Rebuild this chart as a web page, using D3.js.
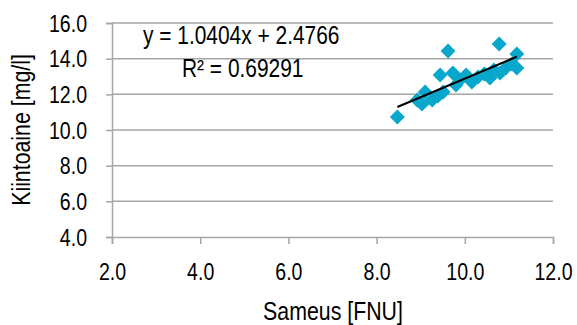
<!DOCTYPE html>
<html><head><meta charset="utf-8">
<script src="https://cdn.jsdelivr.net/npm/d3@7"></script>
<style>
html,body{margin:0;padding:0;background:#fff;}
svg text{font-family:"Liberation Sans",Arial,sans-serif;fill:#000;}
</style></head>
<body><svg id="c" width="577" height="325"></svg>
<script>
const sameus = [8.47, 8.92, 9.03, 9.10, 9.26, 9.39, 9.44, 9.51, 9.62, 9.73, 9.80, 9.89, 10.03, 10.16, 10.30, 10.44, 10.57, 10.66, 10.80, 10.78, 10.93, 11.07, 11.18, 11.18];
const kiintoaine = [10.73, 11.68, 11.46, 12.13, 11.68, 11.91, 13.09, 12.13, 14.43, 13.20, 12.52, 12.81, 13.09, 12.69, 12.97, 13.14, 12.92, 13.37, 13.20, 14.82, 13.48, 13.70, 14.26, 13.48];
const xTicks = [2, 4, 6, 8, 10, 12];
const yTicks = [4, 6, 8, 10, 12, 14, 16];
const slope = 1.0404, intercept = 2.4766;
const eqText = "y = 1.0404x + 2.4766";
const r2Text = "R² = 0.69291";
const xTitle = "Sameus [FNU]";
const yTitle = "Kiintoaine [mg/l]";

const svg = d3.select("#c");
const x = d3.scaleLinear().domain([2, 12]).range([112, 553]);
const y = d3.scaleLinear().domain([4, 16]).range([237, 23]);
const grey = "#a6a6a6";

function narrow(sel, k) {
  sel.each(function(){
    const w = this.getComputedTextLength();
    d3.select(this).attr("textLength", w * k).attr("lengthAdjust", "spacingAndGlyphs");
  });
}

// gridlines
svg.append("g").selectAll("line").data(yTicks.filter(d => d > 4)).join("line")
  .attr("x1", x(2)).attr("x2", x(12)).attr("y1", d => y(d)).attr("y2", d => y(d))
  .attr("stroke", grey).attr("stroke-width", 1.5);

// x axis
const xa = svg.append("g").attr("transform", `translate(0,${y(4)})`)
  .call(d3.axisBottom(x).tickValues(xTicks).tickFormat(d3.format(".1f")).tickSizeOuter(0).tickSize(7).tickPadding(20));
// y axis
const ya = svg.append("g").attr("transform", `translate(${x(2)},0)`)
  .call(d3.axisLeft(y).tickValues(yTicks).tickFormat(d3.format(".1f")).tickSizeOuter(0).tickSize(6).tickPadding(19));
[xa, ya].forEach(a => {
  a.select(".domain").attr("stroke", grey).attr("stroke-width", 1.5);
  a.selectAll(".tick line").attr("stroke", grey).attr("stroke-width", 1.5);
  a.selectAll(".tick text").attr("font-size", 23).attr("fill", "#000");
});
ya.selectAll(".tick text").attr("dy", "0.36em");
narrow(svg.selectAll(".tick text"), 0.85);

// points
const pts = sameus.map((v, i) => [v, kiintoaine[i]]);
svg.append("g").selectAll("path").data(pts).join("path")
  .attr("d", d3.symbol(d3.symbolSquare, 112)())
  .attr("transform", d => `translate(${x(d[0])},${y(d[1])}) rotate(45)`)
  .attr("fill", "#09a7cc");

// trendline
const xmin = d3.min(sameus), xmax = d3.max(sameus);
svg.append("line")
  .attr("x1", x(xmin)).attr("y1", y(slope * xmin + intercept))
  .attr("x2", x(xmax)).attr("y2", y(slope * xmax + intercept))
  .attr("stroke", "#000").attr("stroke-width", 2);

// equation
const eq = svg.append("g");
eq.append("text").attr("x", 143).attr("y", 44).attr("font-size", 25.5).text(eqText);
eq.append("text").attr("x", 182).attr("y", 77).attr("font-size", 25.5).text(r2Text);

// titles
const tt = svg.append("g");
tt.append("text").attr("x", 333).attr("y", 319.5).attr("text-anchor", "middle").attr("font-size", 26).text(xTitle);
tt.append("text").attr("transform", "translate(30,130) rotate(-90)").attr("text-anchor", "middle").attr("font-size", 26).text(yTitle);
narrow(eq.selectAll("text"), 0.82);
narrow(tt.selectAll("text"), 0.82);
</script></body></html>
